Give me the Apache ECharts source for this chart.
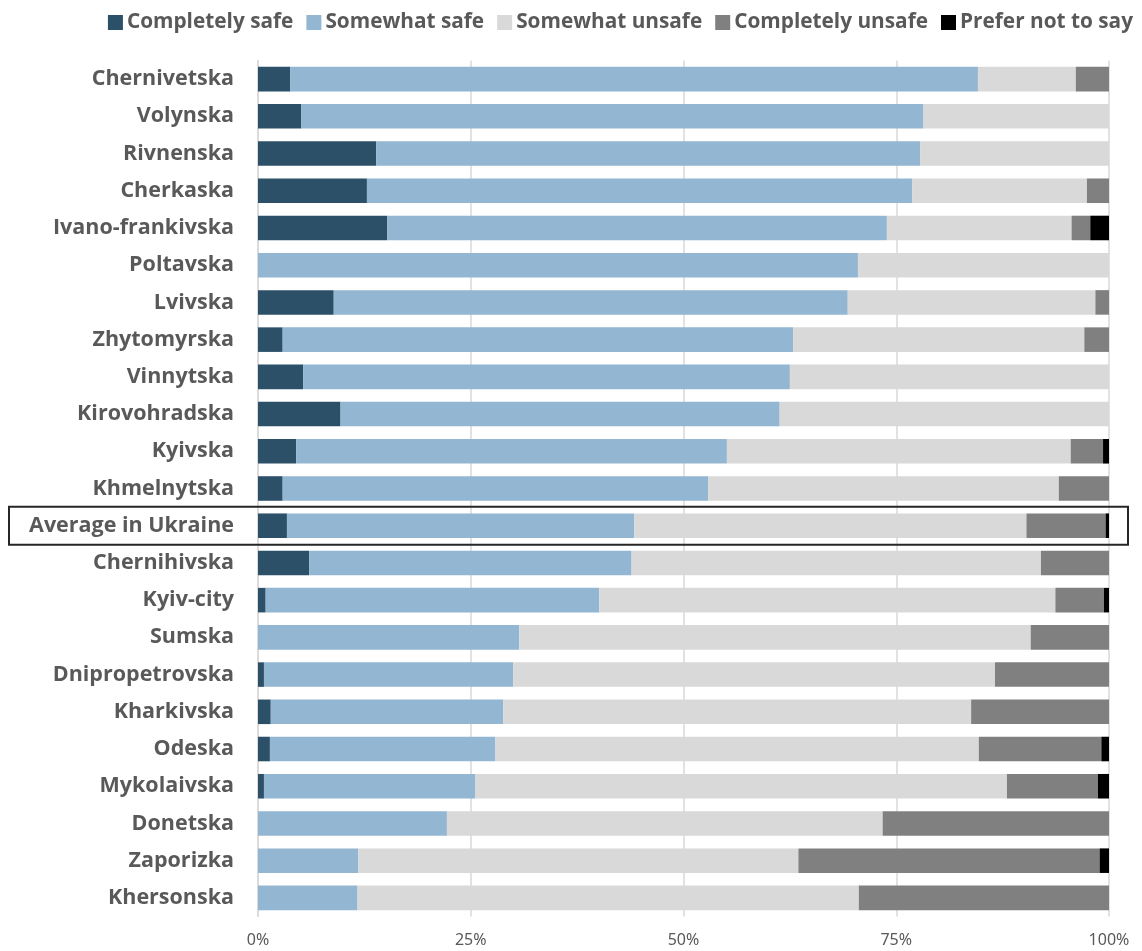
<!DOCTYPE html>
<html>
<head>
<meta charset="utf-8">
<script src="https://cdn.jsdelivr.net/npm/echarts@6/dist/echarts.min.js"></script>
<style>html,body{margin:0;padding:0;background:#fff;}#c{width:1142px;height:951px;}</style>
</head>
<body>
<div id="c"></div>
<script>
const categories = ["Chernivetska","Volynska","Rivnenska","Cherkaska","Ivano-frankivska","Poltavska","Lvivska","Zhytomyrska","Vinnytska","Kirovohradska","Kyivska","Khmelnytska","Average in Ukraine","Chernihivska","Kyiv-city","Sumska","Dnipropetrovska","Kharkivska","Odeska","Mykolaivska","Donetska","Zaporizka","Khersonska"];
const completelySafe   = [3.8, 5.1, 13.9, 12.8, 15.2, 0, 8.9, 2.9, 5.3, 9.7, 4.5, 2.9, 3.4, 6.0, 0.9, 0, 0.7, 1.5, 1.4, 0.7, 0, 0, 0];
const somewhatSafe     = [80.8, 73.1, 63.9, 64.1, 58.7, 70.5, 60.4, 60.0, 57.2, 51.6, 50.6, 50.0, 40.8, 37.9, 39.2, 30.7, 29.3, 27.3, 26.5, 24.8, 22.2, 11.8, 11.7];
const somewhatUnsafe   = [11.5, 21.8, 22.2, 20.5, 21.7, 29.5, 29.1, 34.2, 37.5, 38.7, 40.4, 41.2, 46.1, 48.1, 53.6, 60.1, 56.6, 55.0, 56.8, 62.5, 51.2, 51.7, 58.9];
const completelyUnsafe = [3.9, 0, 0, 2.6, 2.2, 0, 1.6, 2.9, 0, 0, 3.8, 5.9, 9.3, 8.0, 5.7, 9.2, 13.4, 16.2, 14.4, 10.7, 26.6, 35.4, 29.4];
const preferNotToSay   = [0, 0, 0, 0, 2.2, 0, 0, 0, 0, 0, 0.7, 0, 0.4, 0, 0.6, 0, 0, 0, 0.9, 1.3, 0, 1.1, 0];
const seriesNames = ["Completely safe","Somewhat safe","Somewhat unsafe","Completely unsafe","Prefer not to say"];
const seriesData = [completelySafe, somewhatSafe, somewhatUnsafe, completelyUnsafe, preferNotToSay];
const colors = ["#2d5069","#93b7d2","#d9d9d9","#808080","#000000"];
const xTicks = [0, 25, 50, 75, 100];
const highlight = "Average in Ukraine";

const chart = echarts.init(document.getElementById('c'));
const font = "'Open Sans', 'Noto Sans', sans-serif";
chart.setOption({
  animation: false,
  color: colors,
  legend: {
    top: 7, right: 4,
    itemWidth: 15, itemHeight: 15, itemGap: 13,
    icon: 'rect',
    textStyle: { fontFamily: font, fontWeight: 'bold', fontSize: 20.8, color: '#595959', padding: [0,0,0,-1] }
  },
  grid: { left: 258, right: 33, top: 60.5, bottom: 34.5, containLabel: false },
  xAxis: {
    type: 'value', min: 0, max: 100, interval: 25,
    axisLabel: { formatter: v => xTicks.includes(v) ? v + '%' : '', fontFamily: "'Noto Sans', sans-serif", fontSize: 16, color: '#595959', margin: 16 },
    splitLine: { show: true, lineStyle: { color: '#d9d9d9', width: 1.5 } },
    axisLine: { show: false }, axisTick: { show: false }
  },
  yAxis: {
    type: 'category', data: categories, inverse: true,
    axisLabel: { fontFamily: font, fontWeight: 'bold', fontSize: 21.5, color: '#595959', margin: 24 },
    axisLine: { show: true, lineStyle: { color: '#d9d9d9', width: 1.5 } }, axisTick: { show: false }
  },
  series: seriesNames.map((n, i) => ({
    name: n, type: 'bar', stack: 'total', data: seriesData[i],
    barCategoryGap: '34%',
    itemStyle: { color: colors[i] }
  }))
});

const yc = chart.convertToPixel({ yAxisIndex: 0 }, highlight);
const x1 = chart.convertToPixel({ xAxisIndex: 0 }, 100);
chart.setOption({
  graphic: [{
    type: 'rect', z: 100,
    shape: { x: 9, y: yc - 19, width: x1 + 19 - 9, height: 38 },
    style: { fill: 'none', stroke: '#262626', lineWidth: 2 }
  }]
});
</script>
</body>
</html>
